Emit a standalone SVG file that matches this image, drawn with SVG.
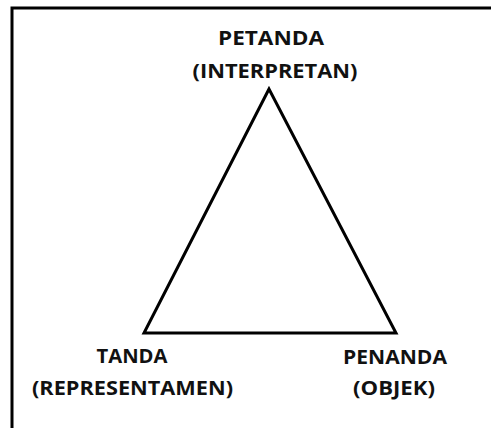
<svg xmlns="http://www.w3.org/2000/svg" width="491" height="428" viewBox="0 0 491 428">
<style>
.lbl{font-family:"Open Sans","Liberation Sans",sans-serif;font-weight:bold;font-size:19.5px;fill:#111;text-anchor:middle}
.edge{fill:none;stroke:#000;stroke-width:3;stroke-linejoin:miter}
</style>
<rect x="0" y="0" width="491" height="428" fill="#fff"/>
<path d="M12,430 V8 H493" fill="none" stroke="#000" stroke-width="3"/>
<g id="connectors">
<polygon class="edge" points="269,89 144,333 396,333"/>
</g>
<g id="petanda">
<text class="lbl" x="271" y="45" textLength="106" lengthAdjust="spacingAndGlyphs">PETANDA</text>
<text class="lbl" x="275" y="78" textLength="165" lengthAdjust="spacingAndGlyphs">(INTERPRETAN)</text>
</g>
<g id="tanda">
<text class="lbl" x="132" y="363" textLength="71" lengthAdjust="spacingAndGlyphs">TANDA</text>
<text class="lbl" x="132.5" y="395" textLength="201" lengthAdjust="spacingAndGlyphs">(REPRESENTAMEN)</text>
</g>
<g id="penanda">
<text class="lbl" x="395" y="364" textLength="104" lengthAdjust="spacingAndGlyphs">PENANDA</text>
<text class="lbl" x="394" y="395" textLength="82" lengthAdjust="spacingAndGlyphs">(OBJEK)</text>
</g>
</svg>
